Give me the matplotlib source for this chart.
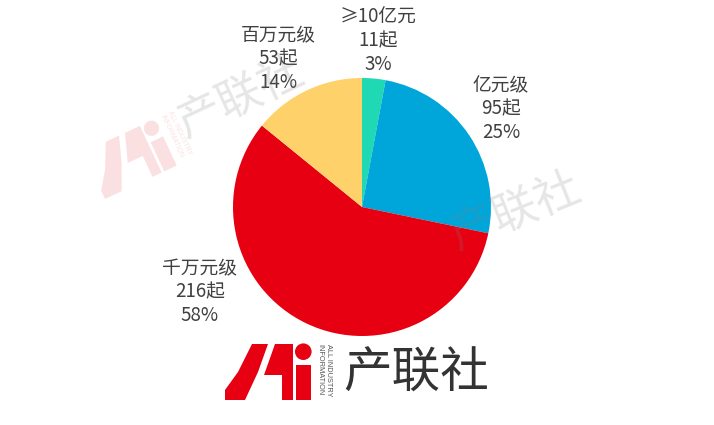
import matplotlib
matplotlib.use('Agg')
import matplotlib.pyplot as plt
from matplotlib.patches import Polygon, Circle
from matplotlib.transforms import Affine2D

# ---------------- data ----------------
categories = ['≥10亿元', '亿元级', '千万元级', '百万元级']
counts = [11, 95, 216, 53]
colors = ['#1FD8B4', '#00A6D9', '#E60012', '#FED16A']

# ---------------- layout ----------------
# label centers (pie data units, middle line)
label_pos = [(0.124, 1.287), (1.078, 0.760), (-1.256, -0.659), (-0.651, 1.147)]
line_step = 0.182
FONT = ['Noto Sans CJK SC', 'DejaVu Sans']
TXT = '#404040'

W, H = 714, 425
fig = plt.figure(figsize=(W / 100, H / 100), dpi=100)
cx, cy, r = 362, 207, 129
ax = fig.add_axes([(cx - r) / W, (H - cy - r) / H, 2 * r / W, 2 * r / H])
ax.pie(counts, colors=colors, startangle=90, counterclock=False, radius=1,
       wedgeprops=dict(linewidth=0))
ax.set_xlim(-1, 1)
ax.set_ylim(-1, 1)
ax.axis('off')

total = sum(counts)
for cat, n, (lx, ly) in zip(categories, counts, label_pos):
    pct = round(100 * n / total)
    for i, s in enumerate([cat, f'{n}起', f'{pct}%']):
        ax.text(lx, ly + (1 - i) * line_step, s, ha='center', va='center',
                fontsize=13.5, color=TXT, family=FONT, clip_on=False)

# ---------------- logo / watermarks ----------------
ov = fig.add_axes([0, 0, 1, 1])
ov.set_xlim(0, W)
ov.set_ylim(0, H)
ov.axis('off')
ov.patch.set_alpha(0)

shape1 = [(0, 0), (0, 10), (13, 28), (27, 56), (43, 56), (33, 28), (20, 0)]
shape2 = [(50, 56), (68, 56), (68, 0), (57, 0), (57, 25), (39, 25)]
bar = [(71, 0), (86, 0), (86, 35), (71, 35)]


def draw_logo(ox, oy, s, theta, red_alpha, txt_color, txt_alpha, vt_color,
              vt_alpha, txt_anchor=(118, 26)):
    T = Affine2D().scale(s).rotate_deg(theta).translate(ox, oy)
    tr = T + ov.transData
    red = '#E60012'
    for poly in (shape1, shape2, bar):
        ov.add_patch(Polygon(poly, closed=True, fc=red, ec='none',
                             alpha=red_alpha, transform=tr))
    ov.add_patch(Circle((78.3, 48.3), 8.3, fc=red, ec='none',
                        alpha=red_alpha, transform=tr))
    for txt, lx in [('ALL INDUSTRY', 103.5), ('INFORMATION', 94.5)]:
        px, py = T.transform((lx, 56.5))
        ov.text(px, py, txt, rotation=theta - 90, rotation_mode='anchor',
                ha='left', va='center', fontsize=5.3 * s, color=vt_color,
                alpha=vt_alpha, family='Liberation Sans')
    px, py = T.transform(txt_anchor)
    ov.text(px, py, '产联社', rotation=theta, rotation_mode='anchor',
            ha='left', va='center', fontsize=35 * s, color=txt_color,
            alpha=txt_alpha, family=FONT, fontweight='light')


# faint watermarks
draw_logo(105, 226, 0.92, 25, 0.12, '#808080', 0.2, '#E60012', 0.12,
          txt_anchor=(107, 37))
draw_logo(372, 118, 0.94, 22, 0.10, '#808080', 0.2, '#E60012', 0.10,
          txt_anchor=(107, 37))
# main logo
draw_logo(225, 25, 1.0, 0, 1.0, '#333333', 1.0, '#555555', 1.0)

fig.savefig('out.png', dpi=100)
